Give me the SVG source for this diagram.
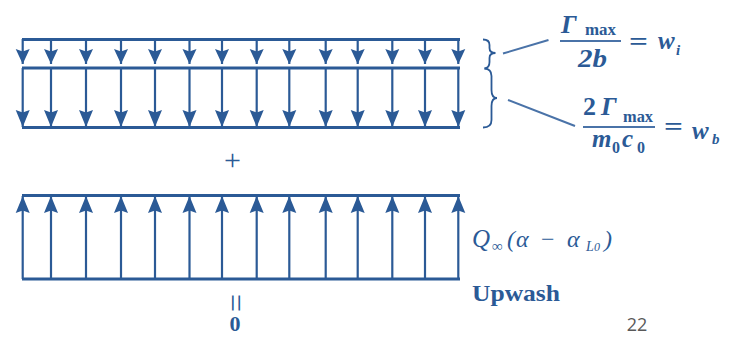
<svg xmlns="http://www.w3.org/2000/svg" width="734" height="337" viewBox="0 0 734 337">
<style>
.frame{stroke:#2b5a96;stroke-width:3;fill:none}
.shaft{stroke:#2b5a96;stroke-width:2.2;fill:none}
.brace{stroke:#2b5a96;stroke-width:1.8;fill:none}
.lead{stroke:#4a73a8;stroke-width:2;fill:none}
.bar{stroke:#4a73a8;stroke-width:2}
.m{font-family:"Liberation Serif","DejaVu Serif",serif;fill:#2b5a96}
.bi{font-style:italic;font-weight:bold}
.it{font-style:italic}
.b{font-weight:bold}
</style>
<defs>
<marker id="ah" markerUnits="userSpaceOnUse" markerWidth="18" markerHeight="16" viewBox="0 -8 18 16" refX="17" refY="0" orient="auto">
<path d="M0,-7 L17,0 L0,7 L2.5,0 z" fill="#2b5a96"/>
</marker>
<marker id="ahs" markerUnits="userSpaceOnUse" markerWidth="16" markerHeight="16" viewBox="0 -8 16 16" refX="15" refY="0" orient="auto">
<path d="M0,-7 L15,0 L0,7 L2.5,0 z" fill="#2b5a96"/>
</marker>
</defs>

<g id="downwash-panel">
<line class="frame" x1="22" y1="39.5" x2="460" y2="39.5"/>
<line class="frame" x1="22" y1="68" x2="460" y2="68"/>
<line class="frame" x1="22" y1="127.5" x2="460" y2="127.5"/>
<g class="shaft" marker-end="url(#ahs)">
<line x1="22.7" y1="39" x2="22.7" y2="64"/><line x1="51" y1="39" x2="51" y2="64"/><line x1="86" y1="39" x2="86" y2="64"/><line x1="121" y1="39" x2="121" y2="64"/><line x1="155" y1="39" x2="155" y2="64"/><line x1="189.5" y1="39" x2="189.5" y2="64"/><line x1="222" y1="39" x2="222" y2="64"/><line x1="256.7" y1="39" x2="256.7" y2="64"/><line x1="289.3" y1="39" x2="289.3" y2="64"/><line x1="325.7" y1="39" x2="325.7" y2="64"/><line x1="357.7" y1="39" x2="357.7" y2="64"/><line x1="392.3" y1="39" x2="392.3" y2="64"/><line x1="425" y1="39" x2="425" y2="64"/><line x1="458.3" y1="39" x2="458.3" y2="64"/>
</g>
<g class="shaft" marker-end="url(#ah)">
<line x1="22.7" y1="68" x2="22.7" y2="127"/><line x1="51" y1="68" x2="51" y2="127"/><line x1="86" y1="68" x2="86" y2="127"/><line x1="121" y1="68" x2="121" y2="127"/><line x1="155" y1="68" x2="155" y2="127"/><line x1="189.5" y1="68" x2="189.5" y2="127"/><line x1="222" y1="68" x2="222" y2="127"/><line x1="256.7" y1="68" x2="256.7" y2="127"/><line x1="289.3" y1="68" x2="289.3" y2="127"/><line x1="325.7" y1="68" x2="325.7" y2="127"/><line x1="357.7" y1="68" x2="357.7" y2="127"/><line x1="392.3" y1="68" x2="392.3" y2="127"/><line x1="425" y1="68" x2="425" y2="127"/><line x1="458.3" y1="68" x2="458.3" y2="127"/>
</g>
</g>

<g id="braces">
<path class="brace" d="M483,39.5 Q489.5,39.5 489.5,45 L489.5,48 Q489.5,53 495.5,53 Q489.5,53 489.5,58 L489.5,62 Q489.5,68 484.5,68.5"/>
<path class="brace" d="M484.5,68.5 Q491.5,69 491.5,76 L491.5,90 Q491.5,98 497,98 Q491.5,98 491.5,106 L491.5,120 Q491.5,127.5 483,127.5"/>
</g>

<g id="connectors">
<line class="lead" x1="503" y1="53.5" x2="548.5" y2="40"/>
<line class="lead" x1="508" y1="100" x2="575" y2="126"/>
</g>

<g id="eq-wi">
<text class="m bi" x="561" y="33" font-size="26">Γ</text>
<text class="m b" x="585" y="35" font-size="17" textLength="31" lengthAdjust="spacingAndGlyphs">max</text>
<line class="bar" x1="560" y1="41" x2="621" y2="41"/>
<text class="m bi" x="578" y="66.5" font-size="26" textLength="29" lengthAdjust="spacingAndGlyphs">2b</text>
<text class="m b" x="629" y="50" font-size="26" textLength="19" lengthAdjust="spacingAndGlyphs">=</text>
<text class="m bi" x="658" y="49" font-size="25">w</text>
<text class="m bi" x="676" y="55" font-size="15">i</text>
</g>

<g id="eq-wb">
<text class="m b" x="583" y="115" font-size="26">2</text>
<text class="m bi" x="601" y="115" font-size="26">Γ</text>
<text class="m b" x="623" y="121.5" font-size="17" textLength="30" lengthAdjust="spacingAndGlyphs">max</text>
<line class="bar" x1="583" y1="127" x2="655" y2="127"/>
<text class="m bi" x="592" y="147" font-size="25">m</text>
<text class="m b" x="612" y="152.5" font-size="16">0</text>
<text class="m bi" x="622" y="147" font-size="25">c</text>
<text class="m b" x="637" y="152.5" font-size="16">0</text>
<text class="m b" x="664" y="135" font-size="26" textLength="19" lengthAdjust="spacingAndGlyphs">=</text>
<text class="m bi" x="692" y="139" font-size="25">w</text>
<text class="m bi" x="712" y="144" font-size="15">b</text>
</g>

<g id="plus">
<text class="m" x="232.5" y="170" font-size="30" text-anchor="middle">+</text>
</g>

<g id="upwash-panel">
<line class="frame" x1="22" y1="195.5" x2="460" y2="195.5"/>
<line class="frame" x1="22" y1="279" x2="460" y2="279"/>
<g class="shaft" marker-end="url(#ah)">
<line x1="22.7" y1="279" x2="22.7" y2="196"/><line x1="51" y1="279" x2="51" y2="196"/><line x1="86" y1="279" x2="86" y2="196"/><line x1="121" y1="279" x2="121" y2="196"/><line x1="155" y1="279" x2="155" y2="196"/><line x1="189.5" y1="279" x2="189.5" y2="196"/><line x1="222" y1="279" x2="222" y2="196"/><line x1="256.7" y1="279" x2="256.7" y2="196"/><line x1="289.3" y1="279" x2="289.3" y2="196"/><line x1="325.7" y1="279" x2="325.7" y2="196"/><line x1="357.7" y1="279" x2="357.7" y2="196"/><line x1="392.3" y1="279" x2="392.3" y2="196"/><line x1="425" y1="279" x2="425" y2="196"/><line x1="458.3" y1="279" x2="458.3" y2="196"/>
</g>
</g>

<g id="upwash-label">
<text class="m it" x="472" y="247" font-size="25">Q</text>
<text class="m it" x="492" y="251" font-size="15">∞</text>
<text class="m it" x="507" y="247" font-size="24">(</text>
<text class="m it" x="516" y="247" font-size="24">α</text>
<text class="m" x="541" y="247" font-size="24">−</text>
<text class="m it" x="567" y="247" font-size="24">α</text>
<text class="m it" x="586" y="251" font-size="14">L</text>
<text class="m it" x="594" y="251" font-size="12">0</text>
<text class="m it" x="604" y="247" font-size="24">)</text>
<text class="m b" x="472" y="301" font-size="24" textLength="88" lengthAdjust="spacingAndGlyphs">Upwash</text>
</g>

<g id="result">
<text class="m" x="0" y="0" font-size="32" text-anchor="middle" transform="translate(235,303) rotate(90) translate(0,10)">=</text>
<text class="m b" x="235" y="331" font-size="22" text-anchor="middle">0</text>
</g>

<text x="637" y="331" font-family="'Open Sans','Liberation Sans',sans-serif" font-size="18" fill="#595959" text-anchor="middle">22</text>
</svg>
